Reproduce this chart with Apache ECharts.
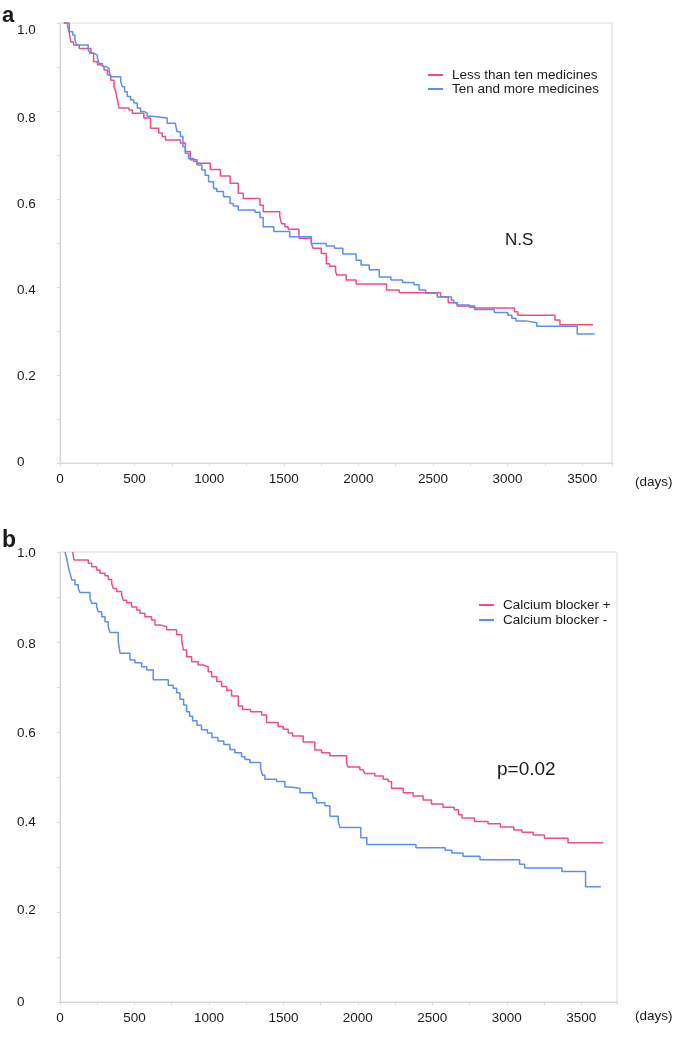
<!DOCTYPE html>
<html>
<head>
<meta charset="utf-8">
<script src="https://cdn.jsdelivr.net/npm/echarts@6/dist/echarts.min.js"></script>
<style>
html,body{margin:0;padding:0;background:#fff;}
#chart{width:685px;height:1037px;}
</style>
</head>
<body>
<div id="chart"></div>
<script>
// ---------- DATA ----------
const xTickLabels = [0, 500, 1000, 1500, 2000, 2500, 3000, 3500];
const yTickLabels = ['0', '0.2', '0.4', '0.6', '0.8', '1.0'];

// Panel a
const aNames = ['Less than ten medicines', 'Ten and more medicines'];
const aLessDays = [25,62,73,91,129,207,225,251,273,295,318,340,362,373,385,395,462,485,562,607,662,685,707,807,840,873,918,1007,1075,1140,1195,1229,1340,1363,1473,1485,1507,1529,1602,1684,1696,1751,1785,1807,1847,1856,1918,1985,2189,2274,2551,2602,2662,2780,3047,3069,3318,3351,3573];
const aLessSurv = [1.0,0.977,0.957,0.950,0.942,0.931,0.912,0.905,0.901,0.893,0.882,0.870,0.855,0.844,0.825,0.807,0.802,0.795,0.784,0.761,0.750,0.742,0.734,0.727,0.708,0.689,0.681,0.667,0.652,0.636,0.613,0.601,0.586,0.571,0.561,0.544,0.537,0.531,0.511,0.500,0.488,0.476,0.453,0.447,0.435,0.427,0.416,0.407,0.393,0.387,0.378,0.364,0.357,0.352,0.344,0.336,0.325,0.314,0.314];
const aMoreDays = [25,51,62,85,100,113,189,202,229,251,262,285,307,329,340,407,418,433,451,473,495,518,540,562,585,618,718,773,784,807,824,840,862,896,918,951,973,996,1029,1051,1096,1140,1162,1195,1307,1340,1362,1433,1540,1685,1785,1840,1896,1985,2018,2073,2140,2218,2296,2373,2407,2451,2529,2624,2640,2662,2744,2778,2911,3002,3029,3056,3122,3196,3467,3584];
const aMoreSurv = [1.0,0.991,0.980,0.973,0.961,0.950,0.939,0.931,0.927,0.920,0.908,0.901,0.897,0.890,0.878,0.867,0.855,0.844,0.833,0.825,0.818,0.807,0.799,0.795,0.788,0.784,0.772,0.768,0.753,0.742,0.719,0.704,0.692,0.685,0.677,0.666,0.654,0.639,0.624,0.617,0.605,0.590,0.584,0.575,0.570,0.558,0.537,0.526,0.514,0.499,0.493,0.488,0.475,0.461,0.450,0.439,0.423,0.416,0.410,0.405,0.393,0.386,0.377,0.370,0.364,0.359,0.354,0.349,0.342,0.336,0.329,0.323,0.319,0.311,0.293,0.293];

// Panel b
const bNames = ['Calcium blocker +', 'Calcium blocker -'];
const bPlusDays = [85,94,190,213,246,268,302,324,347,358,380,414,425,448,481,515,537,570,615,638,671,716,783,817,828,850,884,928,962,995,1018,1052,1085,1119,1152,1197,1226,1280,1354,1387,1465,1499,1532,1562,1633,1711,1756,1812,1924,1935,2013,2035,2047,2114,2170,2203,2226,2304,2371,2438,2494,2572,2647,2676,2699,2783,2874,2957,3047,3102,3177,3253,3411,3648];
const bPlusSurv = [1.0,0.982,0.975,0.967,0.960,0.953,0.947,0.939,0.930,0.919,0.912,0.904,0.893,0.887,0.878,0.871,0.864,0.856,0.849,0.838,0.834,0.827,0.816,0.804,0.782,0.767,0.756,0.749,0.745,0.734,0.723,0.712,0.701,0.693,0.680,0.658,0.650,0.645,0.638,0.621,0.612,0.606,0.598,0.591,0.578,0.560,0.554,0.547,0.530,0.522,0.516,0.512,0.508,0.502,0.495,0.490,0.475,0.465,0.458,0.449,0.440,0.433,0.427,0.416,0.409,0.401,0.396,0.389,0.382,0.377,0.371,0.364,0.354,0.354];
const bMinusDays = [34,45,56,67,79,101,123,134,201,213,246,257,280,302,324,336,391,403,470,503,548,582,626,727,760,783,805,830,850,870,890,920,950,990,1020,1060,1100,1141,1174,1219,1242,1275,1347,1360,1376,1454,1510,1544,1611,1696,1700,1722,1779,1812,1868,1879,2020,2060,2390,2586,2631,2706,2820,3086,3120,3370,3529,3632];
const bMinusSurv = [1.0,0.986,0.967,0.953,0.938,0.927,0.919,0.910,0.897,0.886,0.878,0.867,0.856,0.845,0.834,0.821,0.801,0.775,0.760,0.754,0.745,0.738,0.716,0.704,0.697,0.687,0.673,0.660,0.645,0.635,0.625,0.615,0.605,0.598,0.588,0.580,0.572,0.561,0.554,0.545,0.539,0.532,0.519,0.504,0.495,0.490,0.478,0.475,0.465,0.460,0.453,0.443,0.436,0.413,0.401,0.388,0.365,0.350,0.343,0.337,0.331,0.324,0.316,0.306,0.298,0.290,0.256,0.256];

// ---------- STYLE ----------
const FONT = 'Liberation Sans, Arial, sans-serif';
const TXT = '#1a1a1a';
const AX = '#d3dcdc';
const PINK = '#ee4d85';
const BLUE = '#5b8ef0';
// small vertical nudges of the y tick labels (px, + = down), as in the scanned original
const yLabelNudgeA = [-1, 1, 3, 5, 7, 7];
const yLabelNudgeB = [0, -2, 0, 1, 2, 1];

function zip(d, s) { return d.map((v, i) => [v, s[i]]); }

function xAxisCfg(grid, max) {
  return {
    gridIndex: grid, type: 'value', min: 0, max: max, interval: 250,
    axisLine: { show: true, lineStyle: { color: AX, width: 1 } },
    axisTick: { show: true, length: 3, lineStyle: { color: AX } },
    splitLine: { show: false },
    axisLabel: {
      margin: 9, fontSize: 13.5, color: TXT, fontFamily: FONT,
      formatter: v => xTickLabels.includes(Math.round(v)) ? String(Math.round(v)) : ''
    }
  };
}
function yAxisCfg(grid, nudge) {
  const rich = {};
  nudge.forEach((n, i) => {
    rich['l' + i] = { fontSize: 13.5, color: TXT, fontFamily: FONT,
      padding: n >= 0 ? [2 * n, 0, 0, 0] : [0, 0, -2 * n, 0] };
  });
  return {
    gridIndex: grid, type: 'value', min: 0, max: 1, interval: 0.1,
    axisLine: { show: true, lineStyle: { color: AX, width: 1 } },
    axisTick: { show: true, length: 3, lineStyle: { color: AX } },
    splitLine: { show: false },
    axisLabel: {
      align: 'left', margin: 43, fontSize: 13.5, color: TXT, fontFamily: FONT, rich: rich,
      formatter: v => { const r = Math.round(v * 10); if (r % 2) return ''; const i = r / 2; return '{l' + i + '|' + yTickLabels[i] + '}'; }
    }
  };
}
function km(name, xi, days, surv, color) {
  return {
    type: 'line', name: name, xAxisIndex: xi, yAxisIndex: xi, step: 'end',
    data: zip(days, surv), symbol: 'none', showSymbol: false,
    lineStyle: { color: color, width: 1.5 }, itemStyle: { color: color },
    emphasis: { disabled: true }
  };
}
function legendCfg(names, left, top, gap) {
  return {
    data: names, orient: 'vertical', left: left, top: top, padding: 0, itemGap: gap,
    itemWidth: 15, itemHeight: 2, icon: 'rect', selectedMode: false,
    textStyle: { fontSize: 13.5, color: TXT, fontFamily: FONT, lineHeight: 13, padding: [0, 0, 0, 4] }
  };
}
function txt(s, x, y, size, weight, align) {
  return { type: 'text', x: x, y: y, style: { text: s, fontSize: size, fontWeight: weight || 'normal',
    fontFamily: FONT, fill: TXT, textAlign: align || 'left', textVerticalAlign: 'middle' } };
}

const chart = echarts.init(document.getElementById('chart'), null, { renderer: 'canvas' });
chart.setOption({
  animation: false,
  backgroundColor: '#fff',
  grid: [
    { left: 60, top: 23, width: 552, height: 440, show: true, borderColor: AX, borderWidth: 1, backgroundColor: 'transparent' },
    { left: 60, top: 552, width: 557, height: 450, show: true, borderColor: AX, borderWidth: 1, backgroundColor: 'transparent' }
  ],
  xAxis: [xAxisCfg(0, 3700), xAxisCfg(1, 3740)],
  yAxis: [yAxisCfg(0, yLabelNudgeA), yAxisCfg(1, yLabelNudgeB)],
  legend: [legendCfg(aNames, 428, 68, 0), legendCfg(bNames, 479, 598, 1)],
  series: [
    km(aNames[0], 0, aLessDays, aLessSurv, PINK),
    km(aNames[1], 0, aMoreDays, aMoreSurv, BLUE),
    km(bNames[0], 1, bPlusDays, bPlusSurv, PINK),
    km(bNames[1], 1, bMinusDays, bMinusSurv, BLUE)
  ],
  graphic: [
    txt('a', 2, 16, 22, 'bold'),
    txt('b', 2, 541, 23, 'bold'),
    txt('N.S', 505, 240, 17),
    txt('p=0.02', 497, 770, 19),
    txt('(days)', 635, 482, 13.5),
    txt('(days)', 635, 1016, 13.5)
  ]
});
</script>
</body>
</html>
